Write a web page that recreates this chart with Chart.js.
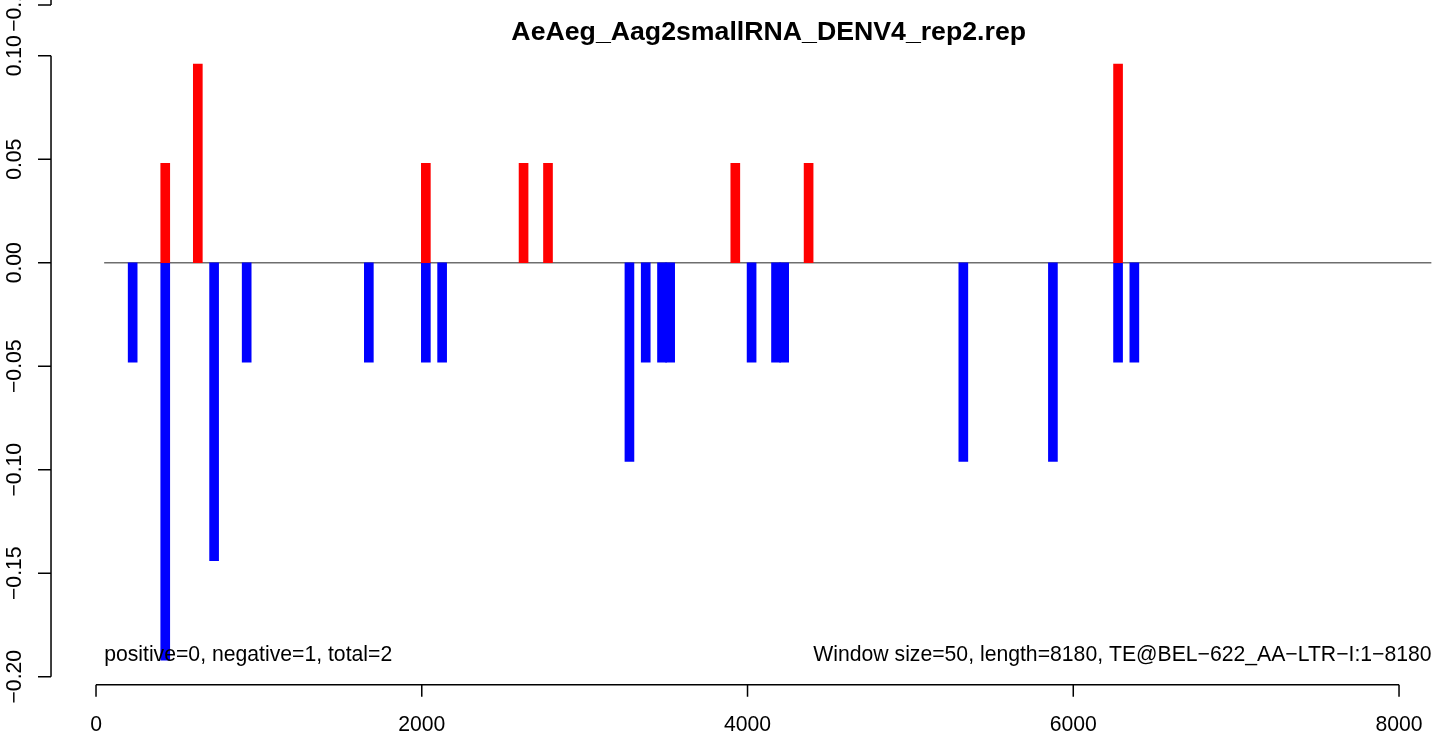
<!DOCTYPE html>
<html>
<head>
<meta charset="utf-8">
<script src="https://cdn.jsdelivr.net/npm/chart.js@4/dist/chart.umd.min.js"></script>
<style>
  html, body { margin: 0; padding: 0; background: #fff; }
</style>
</head>
<body>
<canvas id="region" width="1439" height="736"></canvas>
<script>
// window size 50, bar x = window start, value = normalised count
const windowSize = 50;
const plusStarts = [400, 600, 2000, 2600, 2750, 3900, 4350, 6250];
const plusValues = [0.048, 0.096, 0.048, 0.048, 0.048, 0.048, 0.048, 0.096];
const minusStarts = [200, 400, 700, 900, 1650, 2000, 2100, 3250, 3350, 3450, 3500, 4000, 4150, 4200, 5300, 5850, 6250, 6350];
const minusValues = [-0.048, -0.192, -0.144, -0.048, -0.048, -0.048, -0.048, -0.096, -0.048, -0.048,
                     -0.048, -0.048, -0.048, -0.048, -0.096, -0.096, -0.048, -0.048];
const zeroLineX = [50, 8200];
const xTicks = [0, 2000, 4000, 6000, 8000];
const xTickLabels = ['0', '2000', '4000', '6000', '8000'];
const yTicks = [0.10, 0.05, 0.00, -0.05, -0.10, -0.15, -0.20];
const yTickLabels = ['0.10', '0.05', '0.00', '\u22120.05', '\u22120.10', '\u22120.15', '\u22120.20'];
const titleText = 'AeAeg_Aag2smallRNA_DENV4_rep2.rep';
const leftNote = 'positive=0, negative=1, total=2';
const rightNote = 'Window size=50, length=8180, TE@BEL\u2212622_AA\u2212LTR\u2212I:1\u22128180';

const FONT = '"Liberation Sans", Arial, Helvetica, sans-serif';

let toPoints = (starts, vals) => starts.map((s, i) => ({ x: s + windowSize / 2, y: vals[i] }));

// R style axes, title and notes
let baseGraphics = {
  id: 'baseGraphics',
  afterDraw: function (chart) {
    let ctx = chart.ctx,
        xs = chart.scales.x,
        ys = chart.scales.y;
    ctx.save();
    ctx.strokeStyle = '#000';
    ctx.fillStyle = '#000';
    ctx.lineWidth = 1.5;

    // x axis
    let axY = ys.getPixelForValue(-0.20) + 8;
    let x0 = xs.getPixelForValue(xTicks[0]),
        x1 = xs.getPixelForValue(xTicks[xTicks.length - 1]);
    ctx.beginPath();
    ctx.moveTo(x0, axY);
    ctx.lineTo(x1, axY);
    xTicks.forEach(t => {
      let px = xs.getPixelForValue(t);
      ctx.moveTo(px, axY);
      ctx.lineTo(px, axY + 12);
    });
    ctx.stroke();
    ctx.font = '21.2px ' + FONT;
    ctx.textAlign = 'center';
    ctx.textBaseline = 'alphabetic';
    xTicks.forEach((t, i) => ctx.fillText(xTickLabels[i], xs.getPixelForValue(t), axY + 46));

    // y axis
    let axX = xs.getPixelForValue(0) - 45;
    let yTop = ys.getPixelForValue(yTicks[0]),
        yBot = ys.getPixelForValue(yTicks[yTicks.length - 1]);
    ctx.beginPath();
    ctx.moveTo(axX, yTop);
    ctx.lineTo(axX, yBot);
    yTicks.forEach(t => {
      let py = ys.getPixelForValue(t);
      ctx.moveTo(axX, py);
      ctx.lineTo(axX - 13, py);
    });
    // remnant of the panel above
    let top = chart.chartArea.top + 1;
    ctx.moveTo(axX, top);
    ctx.lineTo(axX - 13, top);
    ctx.moveTo(axX, top);
    ctx.lineTo(axX, 0);
    ctx.stroke();

    let drawRot = (txt, py) => {
      ctx.save();
      ctx.translate(axX - 30, py);
      ctx.rotate(-Math.PI / 2);
      ctx.fillText(txt, 0, 0);
      ctx.restore();
    };
    yTicks.forEach((t, i) => drawRot(yTickLabels[i], ys.getPixelForValue(t)));
    drawRot('\u22120.15', top);

    // title
    ctx.font = 'bold 26.7px ' + FONT;
    ctx.textAlign = 'center';
    ctx.fillText(titleText, xs.getPixelForValue(4130), 40);

    // notes
    ctx.font = '21.2px ' + FONT;
    let noteY = ys.getPixelForValue(-0.19) + 5;
    ctx.textAlign = 'left';
    ctx.fillText(leftNote, xs.getPixelForValue(zeroLineX[0]), noteY);
    ctx.textAlign = 'right';
    ctx.fillText(rightNote, xs.getPixelForValue(zeroLineX[1]), noteY);
    ctx.restore();
  }
};

let ctx = document.getElementById('region').getContext('2d');
let coverage = new Chart(ctx, {
  type: 'bar',
  data: {
    datasets: [{
      label: 'positive',
      data: toPoints(plusStarts, plusValues),
      backgroundColor: '#ff0000',
      borderWidth: 0,
      barThickness: 9,
      grouped: false,
      order: 1
    }, {
      label: 'negative',
      data: toPoints(minusStarts, minusValues),
      backgroundColor: '#0000ff',
      borderWidth: 0,
      barThickness: 9,
      grouped: false,
      order: 2
    }, {
      type: 'line',
      label: 'zero',
      data: zeroLineX.map(x => ({ x: x, y: 0 })),
      borderColor: '#6e6e6e',
      borderWidth: 1.3,
      pointRadius: 0,
      order: 3
    }]
  },
  options: {
    responsive: false,
    animation: false,
    layout: {
      padding: { left: 55.3, right: 7.4, top: 4, bottom: 38.6 }
    },
    scales: {
      x: { type: 'linear', min: -250, max: 8200, offset: false, display: false },
      y: { type: 'linear', min: -0.21, max: 0.125, display: false }
    },
    plugins: {
      legend: { display: false },
      tooltip: { enabled: false }
    }
  },
  plugins: [baseGraphics]
});
</script>
</body>
</html>
